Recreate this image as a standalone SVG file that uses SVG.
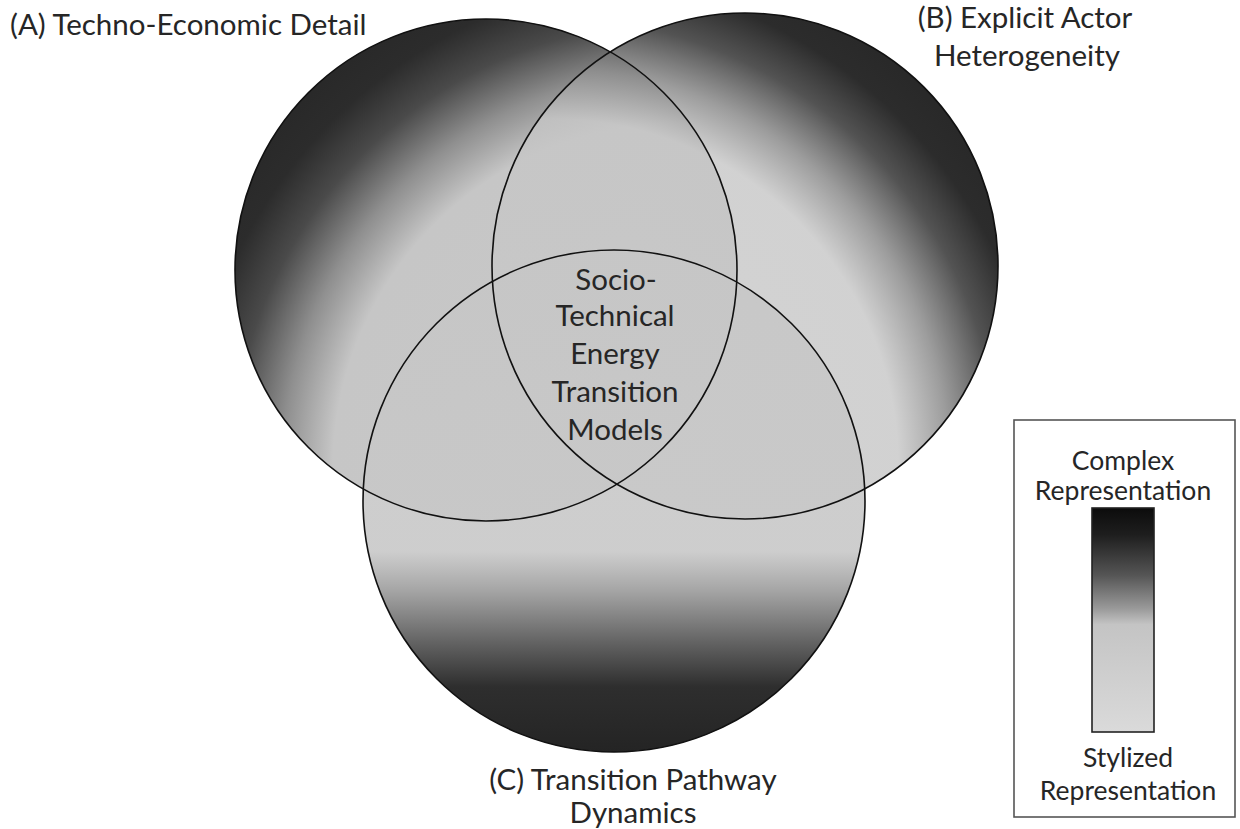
<svg xmlns="http://www.w3.org/2000/svg" width="1240" height="829" viewBox="0 0 1240 829">
<style>
text{font-family:Lato,"Liberation Sans",sans-serif;font-size:29.5px;fill:#262626}
.c{text-anchor:middle}
.lg{font-size:26.5px}
.ring{fill:none;stroke:#111;stroke-width:1.6}
</style>
<defs>
<radialGradient id="gA" gradientUnits="userSpaceOnUse" cx="680" cy="470" r="560">
<stop offset="0" stop-color="#c9c9c9"/>
<stop offset="0.62" stop-color="#c6c6c6"/>
<stop offset="0.71" stop-color="#8f8f8f"/>
<stop offset="0.8" stop-color="#4a4a4a"/>
<stop offset="0.88" stop-color="#2c2c2c"/>
<stop offset="1" stop-color="#262626"/>
</radialGradient>
<radialGradient id="gB" gradientUnits="userSpaceOnUse" cx="551" cy="466" r="560">
<stop offset="0" stop-color="#c9c9c9" stop-opacity="0.8"/>
<stop offset="0.62" stop-color="#c6c6c6" stop-opacity="0.8"/>
<stop offset="0.71" stop-color="#8f8f8f" stop-opacity="0.88"/>
<stop offset="0.8" stop-color="#4a4a4a" stop-opacity="0.95"/>
<stop offset="0.88" stop-color="#2c2c2c"/>
<stop offset="1" stop-color="#262626"/>
</radialGradient>
<linearGradient id="gC" gradientUnits="userSpaceOnUse" x1="0" y1="250" x2="0" y2="752">
<stop offset="0" stop-color="#c6c6c6" stop-opacity="0.85"/>
<stop offset="0.6" stop-color="#c8c8c8" stop-opacity="0.9"/>
<stop offset="0.68" stop-color="#a4a4a4"/>
<stop offset="0.78" stop-color="#646464"/>
<stop offset="0.87" stop-color="#2e2e2e"/>
<stop offset="1" stop-color="#242424"/>
</linearGradient>
<linearGradient id="gL" x1="0" y1="0" x2="0" y2="1">
<stop offset="0" stop-color="#0c0c0c"/>
<stop offset="0.12" stop-color="#1e1e1e"/>
<stop offset="0.3" stop-color="#555"/>
<stop offset="0.45" stop-color="#9a9a9a"/>
<stop offset="0.52" stop-color="#c4c4c4"/>
<stop offset="1" stop-color="#dadada"/>
</linearGradient>
</defs>
<rect width="1240" height="829" fill="#fff"/>
<g id="circleA"><circle cx="486" cy="270" r="251" fill="url(#gA)"/></g>
<g id="circleB"><circle cx="745" cy="266" r="253" fill="url(#gB)"/></g>
<g id="circleC"><circle cx="614" cy="501" r="251" fill="url(#gC)"/></g>
<g id="outlines">
<circle class="ring" cx="486" cy="270" r="251"/>
<circle class="ring" cx="745" cy="266" r="253"/>
<circle class="ring" cx="614" cy="501" r="251"/>
</g>
<g id="labelA"><text x="10" y="35">(A) Techno-Economic Detail</text></g>
<g id="labelB"><text class="c" x="1025" y="28">(B) Explicit Actor</text><text class="c" x="1027" y="66">Heterogeneity</text></g>
<g id="labelC"><text class="c" x="633" y="790">(C) Transition Pathway</text><text class="c" x="633" y="823">Dynamics</text></g>
<g id="center">
<text class="c" x="616" y="290">Socio-</text>
<text class="c" x="615" y="326">Technical</text>
<text class="c" x="615" y="364">Energy</text>
<text class="c" x="615" y="402">Transition</text>
<text class="c" x="615" y="440">Models</text>
</g>
<g id="legend">
<rect x="1014" y="420" width="221" height="397" fill="#fff" stroke="#555" stroke-width="1.6"/>
<text class="c lg" x="1123" y="470">Complex</text>
<text class="c lg" x="1123" y="500">Representation</text>
<rect x="1092" y="508" width="62" height="224" fill="url(#gL)" stroke="#222" stroke-width="1.6"/>
<text class="c lg" x="1128" y="767">Stylized</text>
<text class="c lg" x="1128" y="800">Representation</text>
</g>
</svg>
